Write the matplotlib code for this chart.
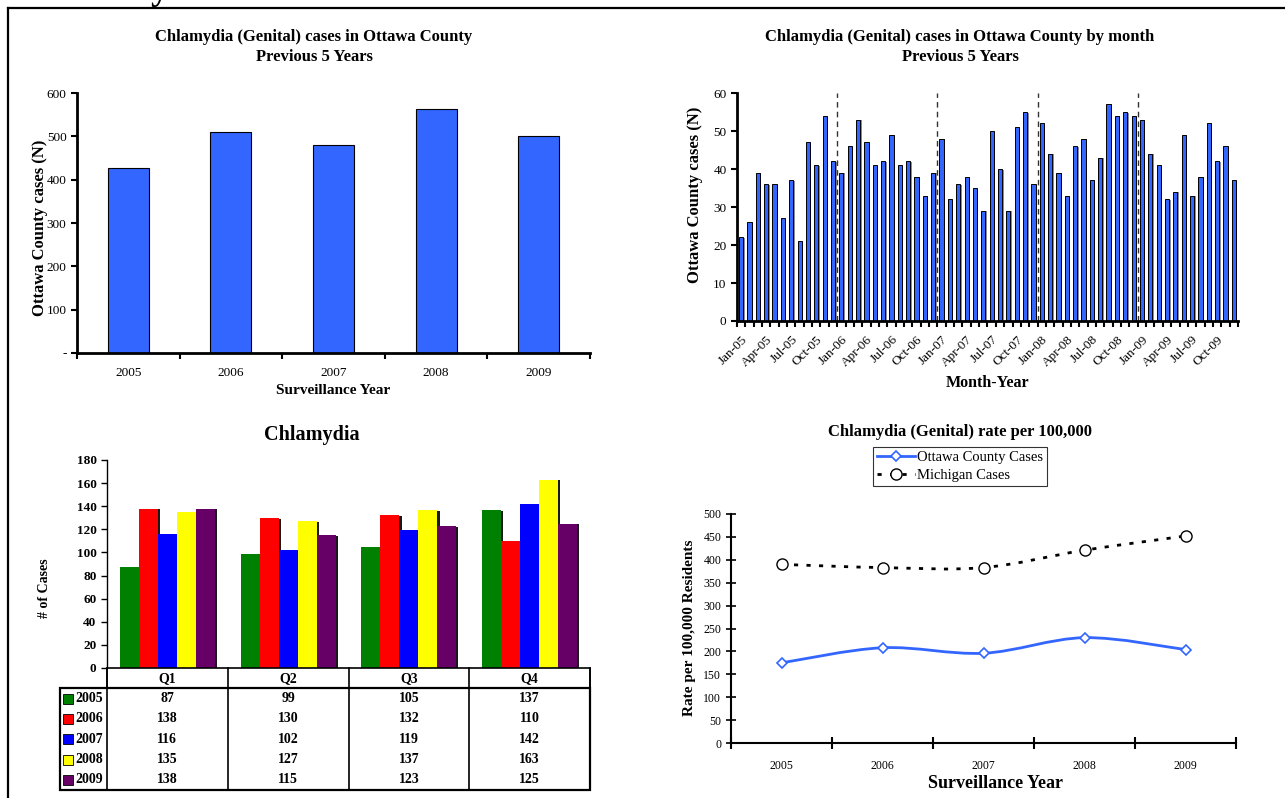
import matplotlib
matplotlib.use('Agg')
import matplotlib.pyplot as plt
import matplotlib.patheffects as pe
from matplotlib.path import Path
from matplotlib.patches import PathPatch, Rectangle
from matplotlib.lines import Line2D
import numpy as np

plt.rcParams['font.family'] = ['Liberation Serif', 'DejaVu Serif']

# ---------------- data ----------------
years = ['2005', '2006', '2007', '2008', '2009']
annual_cases = [428, 510, 479, 562, 501]

month_abbr = ['Jan', 'Feb', 'Mar', 'Apr', 'May', 'Jun',
              'Jul', 'Aug', 'Sep', 'Oct', 'Nov', 'Dec']
monthly_2005 = [22, 26, 39, 36, 36, 27, 37, 21, 47, 41, 54, 42]
monthly_2006 = [39, 46, 53, 47, 41, 42, 49, 41, 42, 38, 33, 39]
monthly_2007 = [48, 32, 36, 38, 35, 29, 50, 40, 29, 51, 55, 36]
monthly_2008 = [52, 44, 39, 33, 46, 48, 37, 43, 57, 54, 55, 54]
monthly_2009 = [53, 44, 41, 32, 34, 49, 33, 38, 52, 42, 46, 37]

quarters = ['Q1', 'Q2', 'Q3', 'Q4']
quarterly_2005 = [87, 99, 105, 137]
quarterly_2006 = [138, 130, 132, 110]
quarterly_2007 = [116, 102, 119, 142]
quarterly_2008 = [135, 127, 137, 163]
quarterly_2009 = [138, 115, 123, 125]
quarter_colors = ['#008000', '#FF0000', '#0000FF', '#FFFF00', '#660066']

ottawa_rate = [175, 208, 196, 230, 204]
michigan_rate = [390, 383, 383, 421, 452]

# ---------------- layout helpers ----------------
W, H = 1285, 798
fig = plt.figure(figsize=(W / 100, H / 100), dpi=100)


def box(l, t, r, b):
    return [l / W, 1 - b / H, (r - l) / W, (b - t) / H]


def fx(px):
    return px / W


def fy(py):
    return 1 - py / H


BLUE = '#3366FF'

# page frame and cut-off heading letter
fig.add_artist(Line2D([fx(8), 1], [fy(8), fy(8)], transform=fig.transFigure, color='k', lw=1.6))
fig.add_artist(Line2D([fx(8), fx(8)], [fy(8), 0], transform=fig.transFigure, color='k', lw=1.6))
fig.text(fx(160), fy(-1), 'y', fontsize=26, fontweight='bold', ha='center', va='baseline')

# ---------------- top-left: annual cases ----------------
ax1 = fig.add_axes(box(77, 93, 590, 353))
x1 = np.arange(len(years))
ax1.bar(x1, annual_cases, width=0.4, color=BLUE, edgecolor='black', lw=0.8)
ax1.set_xlim(-0.5, len(years) - 0.5)
ax1.set_ylim(0, 600)
ax1.set_yticks(np.arange(0, 601, 100))
ax1.set_yticklabels(['-'] + [str(v) for v in range(100, 601, 100)])
ax1.set_xticks(np.arange(-0.5, len(years), 1))
ax1.set_xticklabels([])
ax1.set_xticks(x1, minor=True)
ax1.set_xticklabels(years, minor=True)
ax1.tick_params(axis='x', which='minor', length=0, labelsize=9.5, pad=10)
ax1.tick_params(axis='x', which='major', length=4, width=1.5)
ax1.tick_params(axis='y', length=4, width=1.5, labelsize=9.5, colors='black')
for s in ['top', 'right']:
    ax1.spines[s].set_visible(False)
for s in ['left', 'bottom']:
    ax1.spines[s].set_linewidth(2)
fig.text(fx(314), fy(37), 'Chlamydia (Genital) cases in Ottawa County', fontsize=12,
         fontweight='bold', ha='center', va='center')
fig.text(fx(314), fy(57), 'Previous 5 Years', fontsize=12, fontweight='bold', ha='center', va='center')
fig.text(fx(40), fy(228), 'Ottawa County cases (N)', fontsize=12, fontweight='bold',
         rotation=90, ha='center', va='center')
fig.text(fx(333), fy(390), 'Surveillance Year', fontsize=11, fontweight='bold', ha='center', va='center')

# ---------------- top-right: monthly cases ----------------
ax2 = fig.add_axes(box(737, 93, 1238, 321))
monthly = monthly_2005 + monthly_2006 + monthly_2007 + monthly_2008 + monthly_2009
month_labels = [f'{m}-{y[2:]}' for y in years for m in month_abbr]
xm = np.arange(len(monthly))
ax2.bar(xm, monthly, width=0.5, color=BLUE, edgecolor='black', lw=0.7,
        path_effects=[pe.SimplePatchShadow(offset=(1.0, -0.5), shadow_rgbFace='#808080', alpha=0.9),
                      pe.Normal()])
ax2.set_xlim(-0.5, len(monthly) - 0.5)
ax2.set_ylim(0, 60)
for k in range(1, len(years)):
    ax2.axvline(12 * k - 0.5, color='#333333', lw=1, ls=(0, (4, 3)))
ax2.set_xticks(np.arange(-0.5, len(monthly), 1), minor=True)
ax2.set_xticks(xm[::3])
ax2.set_xticklabels(month_labels[::3], rotation=45, ha='right', rotation_mode='anchor')
ax2.tick_params(axis='x', which='major', length=0, labelsize=9.5, pad=9)
ax2.tick_params(axis='x', which='minor', length=4, width=1.5)
ax2.set_yticks(np.arange(0, 61, 10))
ax2.tick_params(axis='y', length=4, width=1.5, labelsize=9.5)
for s in ['top', 'right']:
    ax2.spines[s].set_visible(False)
for s in ['left', 'bottom']:
    ax2.spines[s].set_linewidth(2)
fig.text(fx(960), fy(37), 'Chlamydia (Genital) cases in Ottawa County by month', fontsize=12,
         fontweight='bold', ha='center', va='center')
fig.text(fx(960), fy(57), 'Previous 5 Years', fontsize=12, fontweight='bold', ha='center', va='center')
fig.text(fx(695), fy(195), 'Ottawa County cases (N)', fontsize=12, fontweight='bold',
         rotation=90, ha='center', va='center')
fig.text(fx(988), fy(383), 'Month-Year', fontsize=11.5, fontweight='bold', ha='center', va='center')

# ---------------- bottom-left: quarterly grouped bars + table ----------------
ax3 = fig.add_axes(box(107, 460, 590, 668))
quarterly = [quarterly_2005, quarterly_2006, quarterly_2007, quarterly_2008, quarterly_2009]
xq = np.arange(len(quarters))
bw = 0.157
for i, vals in enumerate(quarterly):
    ax3.bar(xq + (i - 2) * bw, vals, width=bw, color=quarter_colors[i], edgecolor='none',
            path_effects=[pe.SimplePatchShadow(offset=(1.6, -0.6), shadow_rgbFace='black', alpha=0.9),
                          pe.Normal()])
ax3.set_xlim(-0.5, len(quarters) - 0.5)
ax3.set_ylim(0, 180)
ax3.set_yticks(np.arange(0, 181, 20))
ax3.set_xticks([])
ax3.tick_params(axis='y', length=4, width=1, labelsize=9.5)
for lab in ax3.get_yticklabels():
    lab.set_fontweight('bold')
for s in ['top', 'right', 'bottom']:
    ax3.spines[s].set_visible(False)
ax3.spines['left'].set_linewidth(1)
fig.text(fx(312), fy(435), 'Chlamydia', fontsize=14.5, fontweight='bold', ha='center', va='center')
fig.text(fx(45), fy(588), '# of Cases', fontsize=10, fontweight='bold', rotation=90,
         ha='center', va='center')

# data table aligned with the quarter columns
unit = (590 - 107) / len(quarters)
t_left = -0.5 - (107 - 60) / unit
axT = fig.add_axes(box(60, 668, 590, 790))
axT.set_xlim(t_left, len(quarters) - 0.5)
nrows = len(years) + 1
axT.set_ylim(nrows, 0)
axT.axis('off')
axT.add_patch(Rectangle((-0.5, 0), len(quarters), 1, fill=False, lw=1.2, ec='black', clip_on=False))
axT.add_patch(Rectangle((t_left, 1), len(quarters) - 0.5 - t_left, len(years), fill=False, lw=1.6,
                        ec='black', clip_on=False))
for b in np.arange(-0.5, len(quarters) - 0.4, 1):
    axT.plot([b, b], [0, nrows], color='black', lw=1.2, clip_on=False)
for j, q in enumerate(quarters):
    axT.text(j, 0.5, q, ha='center', va='center', fontsize=10, fontweight='bold')
for i, (yr, vals) in enumerate(zip(years, quarterly)):
    axT.plot(t_left + 0.065, i + 1.5, marker='s', ms=7, mfc=quarter_colors[i], mec='black', mew=0.6,
             clip_on=False)
    axT.text(t_left + 0.125, i + 1.5, yr, ha='left', va='center', fontsize=10, fontweight='bold')
    for j, v in enumerate(vals):
        axT.text(j, i + 1.5, str(v), ha='center', va='center', fontsize=10, fontweight='bold')

# ---------------- bottom-right: rates ----------------
ax4 = fig.add_axes(box(731, 514, 1236, 743))
xr = np.arange(len(years))


def smooth_path(x, y):
    pts = np.column_stack([x, y]).astype(float)
    verts = [pts[0]]
    codes = [Path.MOVETO]
    for i in range(len(pts) - 1):
        p0 = pts[i - 1] if i > 0 else pts[i]
        p1, p2 = pts[i], pts[i + 1]
        p3 = pts[i + 2] if i + 2 < len(pts) else pts[i + 1]
        verts += [p1 + (p2 - p0) / 6, p2 - (p3 - p1) / 6, p2]
        codes += [Path.CURVE4] * 3
    return Path(verts, codes)


MI_DASH = (0, (1.5, 3))
ax4.add_patch(PathPatch(smooth_path(xr, michigan_rate), fill=False, ec='black', lw=2, ls=MI_DASH))
ax4.add_patch(PathPatch(smooth_path(xr, ottawa_rate), fill=False, ec=BLUE, lw=2))
ax4.plot(xr, michigan_rate, ls='none', marker='o', ms=8, mfc='white', mec='black', mew=1, zorder=5)
ax4.plot(xr, ottawa_rate, ls='none', marker='D', ms=5.5, mfc='white', mec=BLUE, mew=1.2, zorder=5)
ax4.set_xlim(-0.5, len(years) - 0.5)
ax4.set_ylim(0, 500)
ax4.set_xticks(np.arange(-0.5, len(years), 1))
ax4.set_xticklabels([])
ax4.set_xticks(xr, minor=True)
ax4.set_xticklabels(years, minor=True)
ax4.tick_params(axis='x', which='minor', length=0, labelsize=8.5, pad=12)
ax4.tick_params(axis='x', which='major', direction='inout', length=9, width=1.5)
ax4.set_yticks(np.arange(0, 501, 50))
ax4.tick_params(axis='y', direction='inout', length=7, width=1.2, labelsize=8.5)
for s in ['top', 'right']:
    ax4.spines[s].set_visible(False)
for s in ['left', 'bottom']:
    ax4.spines[s].set_linewidth(1.5)
handles = [Line2D([], [], color=BLUE, lw=2, marker='D', ms=5.5, mfc='white', mec=BLUE, mew=1.2),
           Line2D([], [], color='black', lw=2, ls=MI_DASH, marker='o', ms=8, mfc='white', mec='black',
                  mew=1)]
leg = fig.legend(handles, ['Ottawa County Cases', 'Michigan Cases'], loc='upper center',
                 bbox_to_anchor=(fx(960), fy(447)), frameon=True, fancybox=False, fontsize=10.5,
                 borderpad=0.25, labelspacing=0.35, handlelength=2.6, handletextpad=0.2,
                 borderaxespad=0)
leg.get_frame().set_edgecolor('black')
leg.get_frame().set_linewidth(0.8)
fig.text(fx(960), fy(432), 'Chlamydia (Genital) rate per 100,000', fontsize=12, fontweight='bold',
         ha='center', va='center')
fig.text(fx(690), fy(628), 'Rate per 100,000 Residents', fontsize=11, fontweight='bold', rotation=90,
         ha='center', va='center')
fig.text(fx(996), fy(783), 'Surveillance Year', fontsize=13, fontweight='bold', ha='center', va='center')

fig.savefig('out.png', dpi=100)
